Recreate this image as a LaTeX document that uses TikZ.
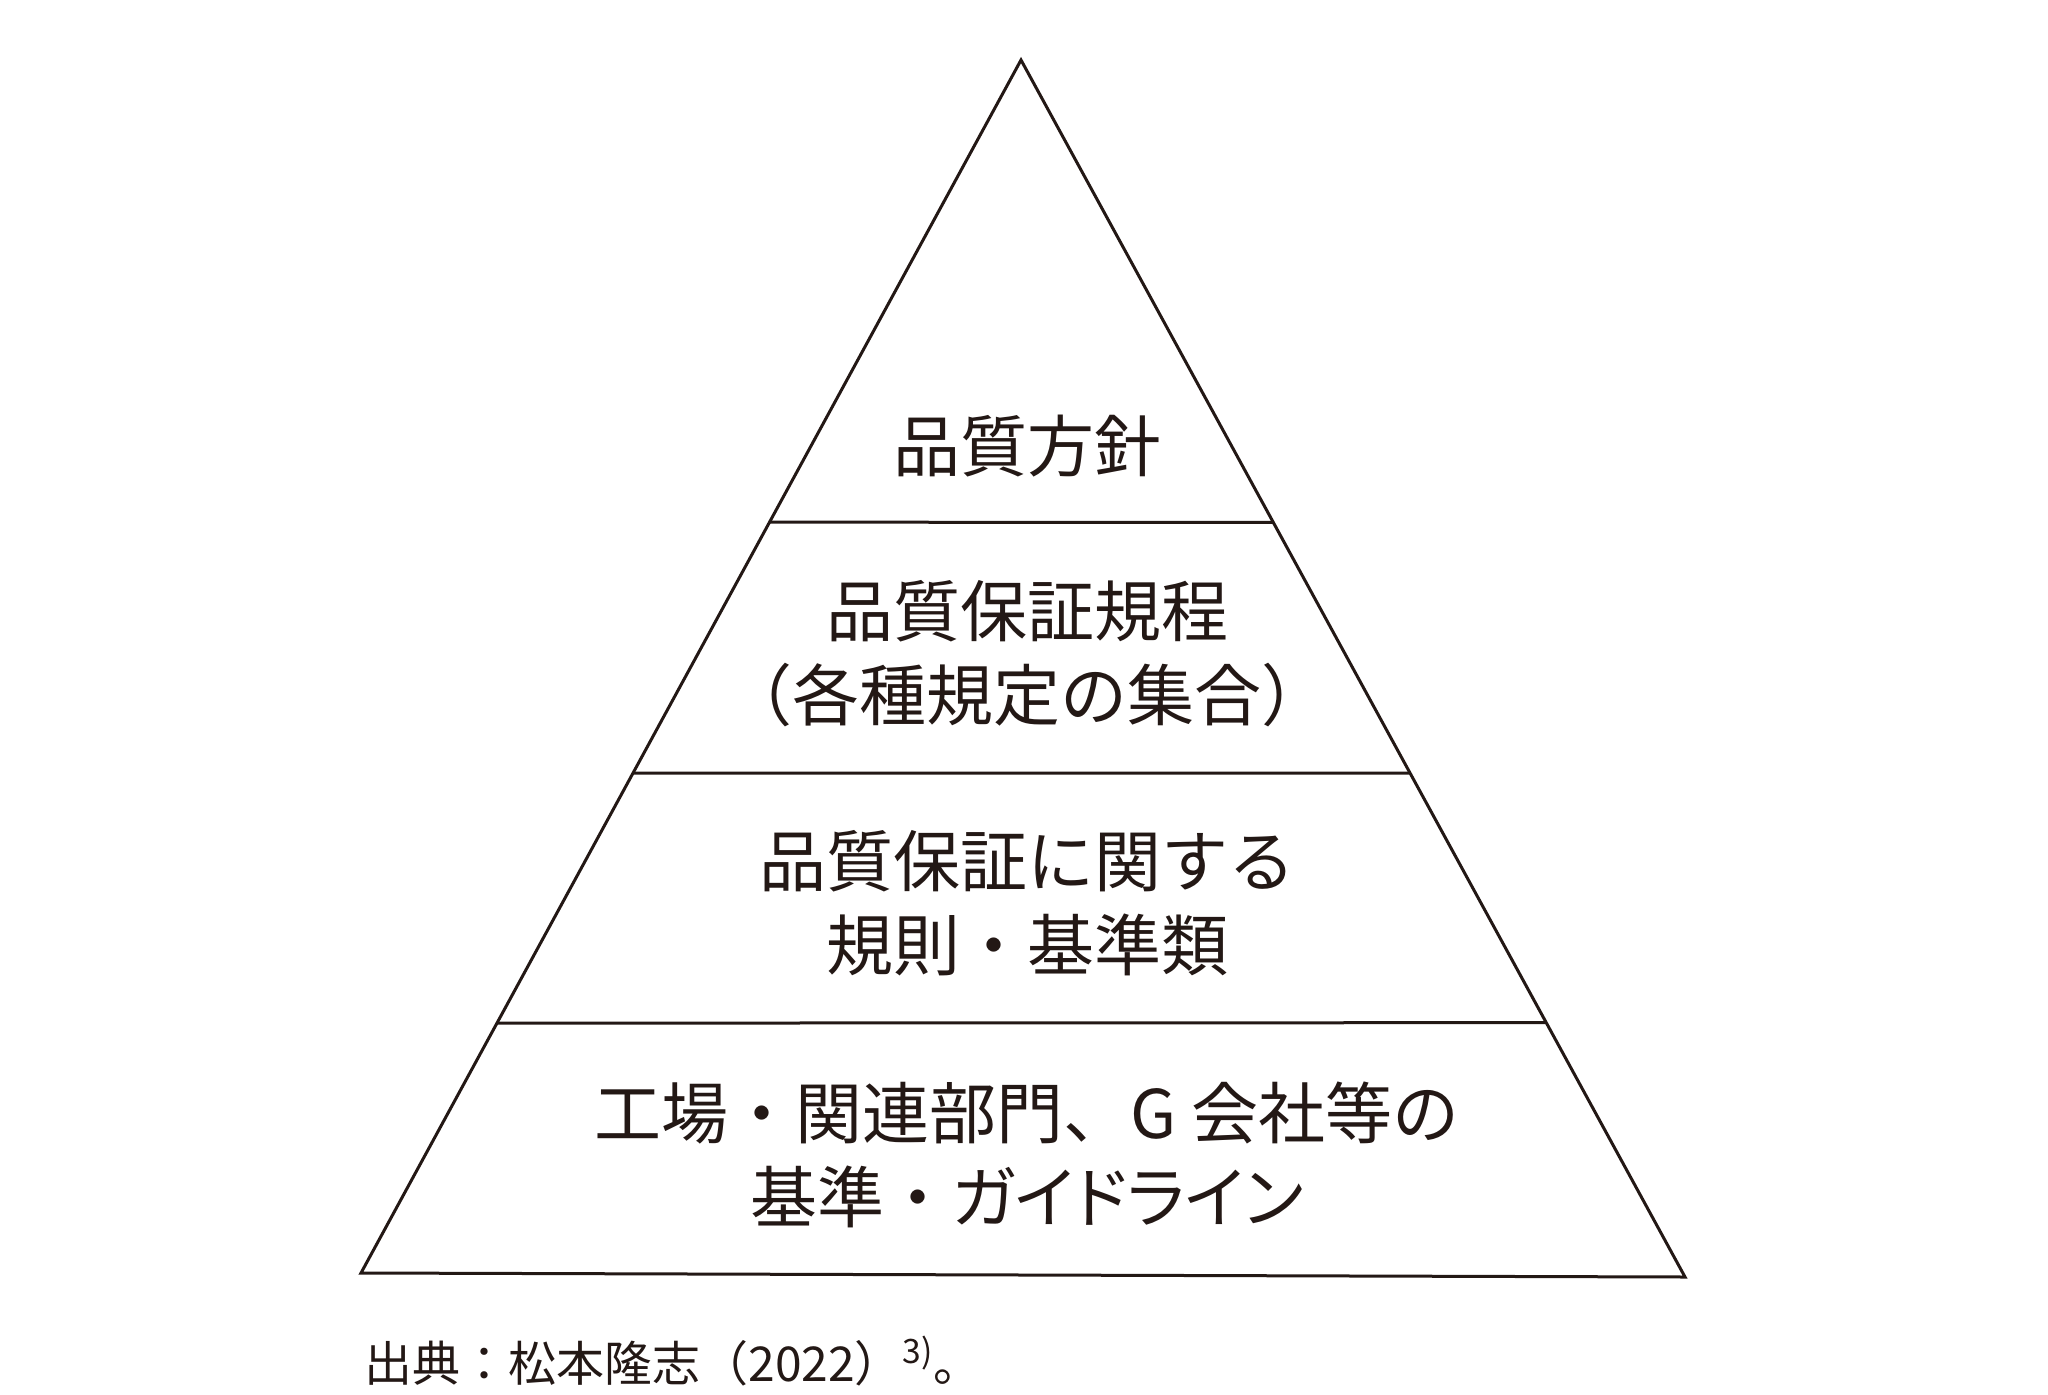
\documentclass[tikz,border=0pt]{standalone}
\usepackage{fontspec}
\usepackage{xcolor}
\usepackage{tikz}
\usetikzlibrary{calc}
\newfontfamily\jpfont{Noto Sans CJK JP}
\newfontfamily\jppalt[RawFeature=+palt]{Noto Sans CJK JP}
\definecolor{inkline}{HTML}{231815}
\tikzset{
        tier/.style={font=\jpfont\fontsize{33.5}{42}\selectfont, text=inkline, align=center, inner sep=0pt},
        source/.style={font=\jpfont\fontsize{24}{30}\selectfont, text=inkline, anchor=west, inner sep=0pt},
    }

\begin{document}
\begin{tikzpicture}[x = 0.5pt, y = -0.5pt]
                \useasboundingbox (0,0) rectangle (2048,1395);
                \coordinate (apex) at (1021,60);
                \coordinate (bl) at (361,1273);
                \coordinate (br) at (1685,1277);
                \draw[inkline, line width=1.5pt, line join=miter] (apex)--(bl)--(br)--cycle;
                \foreach \n/\tl/\tr in {1/0.381/0.380, 2/0.588/0.586, 3/0.794/0.791}
                {
                    \coordinate (l\n) at ($(apex)!\tl!(bl)$);
                    \coordinate (r\n) at ($(apex)!\tr!(br)$);
                    \draw[inkline, line width=1.5pt] (l\n) -- (r\n);
                }
                \node[tier] (policy) at (1027,446) {品質方針};
                \node[tier] (rules) at (1027,654) {品質保証規程\\（各種規定の集合）};
                \node[tier] (standards) at (1027,903) {品質保証に関する\\規則・基準類};
                \node[tier] (guides) at (1027,1155) {工場・関連部門、G 会社等の\\基準・{\jppalt ガイドライン}};
                \node[source] (cite) at (364,1361) {出典：松本隆志（2022）\textsuperscript{3)}。};
            \end{tikzpicture}
\end{document}
